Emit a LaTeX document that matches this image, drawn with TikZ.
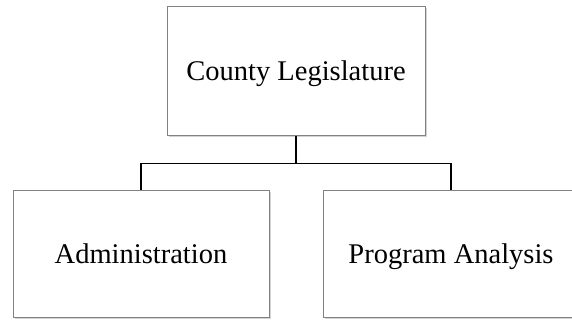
\documentclass[tikz,border=0pt]{standalone}
\usepackage{fontspec}
\setmainfont{Liberation Serif}
\usetikzlibrary{shadows}
\definecolor{boxgray}{RGB}{130,130,130}
\begin{document}
\begin{tikzpicture}[x=1pt, y=1pt,
            unit/.style={draw=boxgray, line width=1pt, fill=white,
              minimum width=256pt, minimum height=127pt, inner sep=0pt,
              text height=24pt, text depth=6pt,
              font=\fontsize{28.5}{34}\selectfont,
              drop shadow={opacity=0.35, shadow xshift=1.5pt, shadow yshift=-1.5pt}},
            link/.style={line width=1.4pt, black}]
            \useasboundingbox (0,0) rectangle (572,320);
            \node[unit, minimum width=258pt, minimum height=129pt] (legis) at (296,248.5) {County Legislature};
            \node[unit] (admin) at (141,65.5) {Administration};
            \node[unit] (analysis) at (451,65.5) {Program Analysis};
            \draw[link] (legis.south) -- ++(0,-27) coordinate (split) -| (admin.north);
            \draw[link] (split) -| (analysis.north);
            \end{tikzpicture}
\end{document}
